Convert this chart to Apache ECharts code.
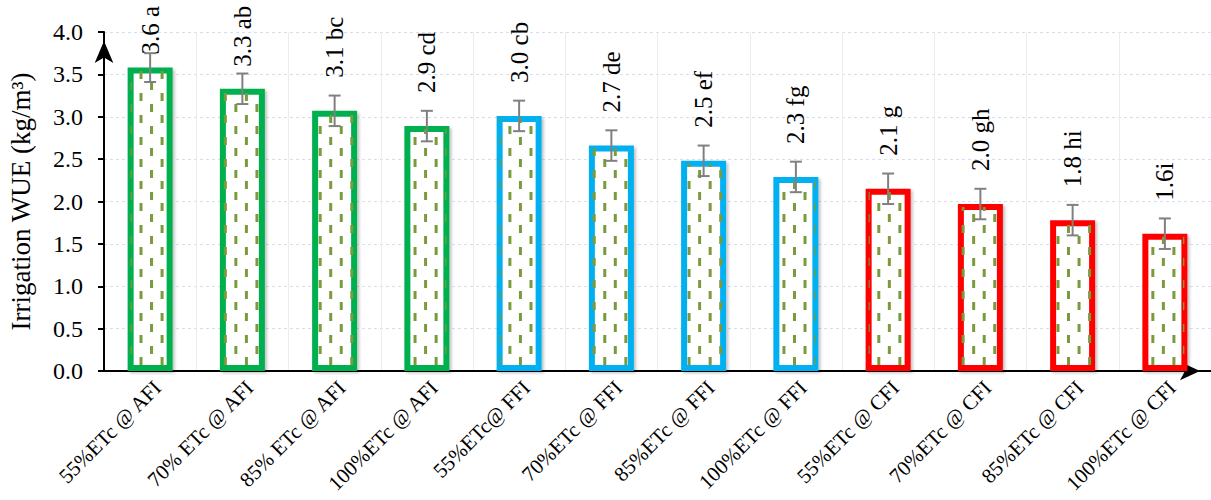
<!DOCTYPE html>
<html><head><meta charset="utf-8">
<script src="https://cdn.jsdelivr.net/npm/echarts@6/dist/echarts.min.js"></script>
<style>html,body{margin:0;padding:0;background:#fff}#c{width:1211px;height:500px}</style>
</head><body><div id="c"></div>
<script>
const categories = ['55%ETc @ AFI', '70% ETc @ AFI', '85% ETc @ AFI', '100%ETc @ AFI',
  '55%ETc@ FFI', '70%ETc @ FFI', '85%ETc @ FFI', '100%ETc @ FFI',
  '55%ETc @ CFI', '70%ETc @ CFI', '85%ETc @ CFI', '100%ETc @ CFI'];
const groups = ['AFI', 'AFI', 'AFI', 'AFI', 'FFI', 'FFI', 'FFI', 'FFI', 'CFI', 'CFI', 'CFI', 'CFI'];
const wueValues = [3.58, 3.33, 3.07, 2.89, 3.01, 2.66, 2.48, 2.29, 2.15, 1.97, 1.78, 1.62];
const errorValues = [0.17, 0.18, 0.18, 0.18, 0.18, 0.18, 0.18, 0.18, 0.18, 0.18, 0.18, 0.18];
const barLabels = ['3.6 a', '3.3 ab', '3.1 bc', '2.9 cd', '3.0 cb', '2.7 de', '2.5 ef', '2.3 fg', '2.1 g', '2.0 gh', '1.8 hi', '1.6i'];
const yMin = 0, yMax = 4, yStep = 0.5;

const groupColor = { AFI: '#00B050', FFI: '#00B0F0', CFI: '#FF0000' };
const FONT = 'Liberation Serif';
const BAR_W = 45, BORDER = 6;
// fill pattern of the bars: short vertical dashes in staggered columns
const DASH = { dx: 10.54, px: 141, period: 22, py: 5, len: 8, w: 3, color: '#7A9A3C' };

const chart = echarts.init(document.getElementById('c'), null, { renderer: 'svg' });

const barData = wueValues.map((v, i) => ({
  value: v,
  itemStyle: { borderColor: groupColor[groups[i]] },
  label: { distance: i === 0 ? 13 : (i === 1 ? 22 : 33) }
}));

function renderPattern(params, api) {
  const i = api.value(0), v = api.value(1);
  const top = api.coord([i, v]);
  const base = api.coord([i, 0]);
  const inner = BAR_W / 2 - BORDER / 2;
  const x0 = top[0] - inner, x1 = top[0] + inner;
  const y0 = top[1] + BORDER / 2, y1 = base[1] - BORDER / 2;
  const children = [];
  for (let k = Math.ceil((x0 - DASH.px) / DASH.dx - 0.2); DASH.px + k * DASH.dx < x1 + 1; k++) {
    const cx = DASH.px + k * DASH.dx;
    const l = Math.max(x0, cx - DASH.w / 2), r = Math.min(x1, cx + DASH.w / 2);
    if (r - l < 0.5) continue;
    const off = (Math.abs(k) % 2) ? DASH.period / 2 : 0;
    const jStart = Math.floor((y0 - DASH.py - off) / DASH.period) - 1;
    for (let j = jStart; DASH.py + off + j * DASH.period < y1; j++) {
      const ya = DASH.py + off + j * DASH.period;
      const t = Math.max(y0, ya), b = Math.min(y1, ya + DASH.len);
      if (b - t < 0.5) continue;
      children.push({ type: 'rect', shape: { x: l, y: t, width: r - l, height: b - t }, style: { fill: DASH.color } });
    }
  }
  return { type: 'group', children };
}

chart.setOption({
  animation: false,
  backgroundColor: '#ffffff',
  grid: { left: 104, right: 0, top: 32, bottom: 129, outerBoundsMode: 'none', containLabel: false },
  xAxis: {
    type: 'category',
    data: categories,
    axisLine: { show: true, lineStyle: { color: '#000', width: 2 }, symbol: ['none', 'arrow'], symbolSize: [14, 20], symbolOffset: [0, -11] },
    axisTick: { show: false },
    splitLine: { show: true, lineStyle: { color: '#ECECEC', width: 1 } },
    axisLabel: { interval: 0, rotate: 45, margin: 6, align: 'right', verticalAlign: 'top', color: '#000', fontFamily: FONT, fontSize: 21 }
  },
  yAxis: {
    type: 'value',
    min: yMin, max: yMax, interval: yStep,
    name: 'Irrigation WUE (kg/m³)',
    nameLocation: 'middle',
    nameGap: 70,
    nameTextStyle: { color: '#000', fontFamily: FONT, fontSize: 27 },
    axisLine: { show: true, lineStyle: { color: '#000', width: 2 }, symbol: ['none', 'arrow'], symbolSize: [14, 22], symbolOffset: [0, -9] },
    axisTick: { show: true, length: 6, lineStyle: { color: '#000', width: 2 } },
    axisLabel: { margin: 21, color: '#000', fontFamily: FONT, fontSize: 24, formatter: v => v.toFixed(1) },
    splitLine: { show: true, lineStyle: { color: '#D5DEF0', width: 1, type: [3, 3] } }
  },
  series: [
    {
      type: 'bar',
      data: barData,
      barWidth: BAR_W,
      itemStyle: {
        color: '#ffffff',
        borderWidth: BORDER,
        shadowColor: 'rgba(0,0,0,0.25)', shadowBlur: 3, shadowOffsetX: 2, shadowOffsetY: 2
      },
      label: {
        show: true, position: 'top', rotate: 90, align: 'left', verticalAlign: 'middle',
        color: '#000', fontFamily: FONT, fontSize: 25,
        formatter: p => barLabels[p.dataIndex]
      },
      z: 2
    },
    {
      type: 'custom',
      data: wueValues.map((v, i) => [i, v]),
      renderItem: renderPattern,
      silent: true,
      z: 3
    },
    {
      type: 'custom',
      data: wueValues.map((v, i) => [i, v, errorValues[i]]),
      renderItem: (params, api) => {
        const x = api.value(0), v = api.value(1), e = api.value(2);
        const hi = api.coord([x, v + e]);
        const lo = api.coord([x, v - e]);
        const cap = 6;
        const st = { stroke: '#808080', lineWidth: 2 };
        return {
          type: 'group', children: [
            { type: 'line', shape: { x1: hi[0], y1: hi[1], x2: lo[0], y2: lo[1] }, style: st },
            { type: 'line', shape: { x1: hi[0] - cap, y1: hi[1], x2: hi[0] + cap, y2: hi[1] }, style: st },
            { type: 'line', shape: { x1: lo[0] - cap, y1: lo[1], x2: lo[0] + cap, y2: lo[1] }, style: st }
          ]
        };
      },
      z: 4
    }
  ]
});
</script>
</body></html>
